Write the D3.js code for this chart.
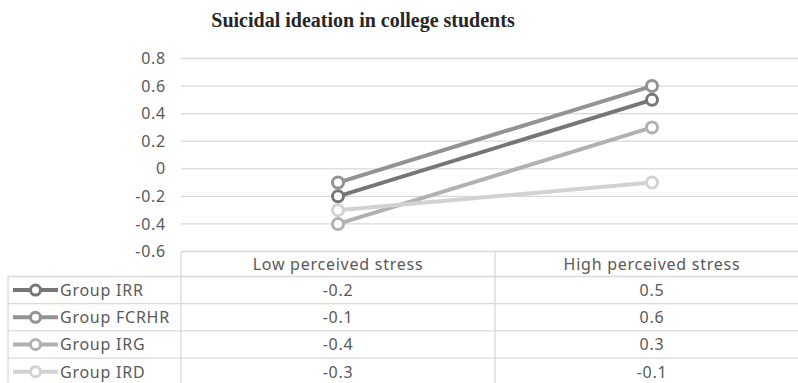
<!DOCTYPE html>
<html><head><meta charset="utf-8">
<script src="https://cdn.jsdelivr.net/npm/d3@7"></script>
<style>
html,body{margin:0;padding:0;background:#fff;overflow:hidden}
</style></head>
<body><svg id="c" width="798" height="383"></svg>
<script>
const title = "Suicidal ideation in college students";
const categories = ["Low perceived stress", "High perceived stress"];
const seriesNames = ["Group IRR", "Group FCRHR", "Group IRG", "Group IRD"];
const seriesColors = ["#767676", "#939393", "#b1b1b1", "#d2d2d2"];
const valuesIRR = [-0.2, 0.5];
const valuesFCRHR = [-0.1, 0.6];
const valuesIRG = [-0.4, 0.3];
const valuesIRD = [-0.3, -0.1];
const tickValues = [-0.6, -0.4, -0.2, 0, 0.2, 0.4, 0.6, 0.8];
const tickLabels = ["-0.6", "-0.4", "-0.2", "0", "0.2", "0.4", "0.6", "0.8"];

const series = seriesNames.map((n, i) => ({name: n, color: seriesColors[i],
  values: [valuesIRR, valuesFCRHR, valuesIRG, valuesIRD][i]}));

const svg = d3.select("#c");
const font = "'Noto Sans', 'DejaVu Sans', sans-serif";
const fs = 16, ls = 0.75;
const textColor = "#595959";
const gridColor = "#d9d9d9";

const plotLeft = 181, plotRight = 809, plotTop = 58.5, plotBottom = 251.5;
const x = d3.scaleBand().domain(categories).range([plotLeft, plotRight]);
const y = d3.scaleLinear().domain([-0.6, 0.8]).range([plotBottom, plotTop]);

// title
svg.append("text").attr("x", 363).attr("y", 27).attr("text-anchor", "middle")
  .attr("font-family", "'Liberation Serif', 'Times New Roman', serif")
  .attr("font-weight", "bold").attr("font-size", 20).attr("fill", "#262626")
  .text(title);

// gridlines
svg.append("g").selectAll("line").data(tickValues.filter(v => v > -0.6)).join("line")
  .attr("x1", plotLeft).attr("x2", plotRight)
  .attr("y1", d => y(d)).attr("y2", d => y(d))
  .attr("stroke", gridColor).attr("stroke-width", 1.3);

// y axis labels
const yAxis = d3.axisLeft(y).tickValues(tickValues)
  .tickFormat((d, i) => tickLabels[i]).tickSize(0).tickPadding(15);
const gy = svg.append("g").attr("transform", `translate(${plotLeft},0)`).call(yAxis);
gy.select(".domain").remove();
gy.selectAll("text").attr("font-family", font).attr("font-size", fs)
  .attr("letter-spacing", ls).attr("fill", textColor);

// lines
const line = d3.line().x((d, i) => x(categories[i]) + x.bandwidth() / 2).y(d => y(d));
const gs = svg.append("g").selectAll("g").data(series).join("g");
gs.append("path").attr("d", d => line(d.values)).attr("fill", "none")
  .attr("stroke", d => d.color).attr("stroke-width", 4);
gs.selectAll("circle").data(d => d.values.map((v, i) => ({v, i, color: d.color}))).join("circle")
  .attr("cx", d => x(categories[d.i]) + x.bandwidth() / 2).attr("cy", d => y(d.v))
  .attr("r", 5.5).attr("fill", "#fff").attr("stroke", d => d.color).attr("stroke-width", 3);

// data table
const tableLeft = 8;
const headerBottom = 276.5;
const rowH = 27.2;
const rowY = i => headerBottom + i * rowH;
const tg = svg.append("g");
const stroke = (x1, y1, x2, y2) => tg.append("line").attr("x1", x1).attr("y1", y1)
  .attr("x2", x2).attr("y2", y2).attr("stroke", gridColor).attr("stroke-width", 1.3);
stroke(plotLeft, plotBottom, plotRight, plotBottom);
for (let i = 0; i <= series.length; i++) stroke(tableLeft, rowY(i), plotRight, rowY(i));
stroke(tableLeft, headerBottom, tableLeft, rowY(series.length));
categories.forEach((c, i) => stroke(x(c), plotBottom, x(c), rowY(series.length)));
stroke(plotRight, plotBottom, plotRight, rowY(series.length));

const txt = (sel) => sel.attr("font-family", font).attr("font-size", fs)
  .attr("letter-spacing", ls).attr("fill", textColor);

// header labels
tg.selectAll("text.hdr").data(categories).join("text").attr("class", "hdr")
  .attr("x", d => x(d) + x.bandwidth() / 2).attr("y", (plotBottom + headerBottom) / 2 + 5.8)
  .attr("text-anchor", "middle").call(txt).text(d => d);

// rows
series.forEach((s, r) => {
  const cy = rowY(r) + rowH / 2;
  tg.append("line").attr("x1", 13).attr("x2", 58).attr("y1", cy).attr("y2", cy)
    .attr("stroke", s.color).attr("stroke-width", 4);
  tg.append("circle").attr("cx", 35.5).attr("cy", cy).attr("r", 5)
    .attr("fill", "#fff").attr("stroke", s.color).attr("stroke-width", 3);
  tg.append("text").attr("x", 60).attr("y", cy + 5.8).call(txt).text(s.name);
  s.values.forEach((v, i) => {
    tg.append("text").attr("x", x(categories[i]) + x.bandwidth() / 2).attr("y", cy + 5.8)
      .attr("text-anchor", "middle").call(txt).text(String(v));
  });
});
</script></body></html>
